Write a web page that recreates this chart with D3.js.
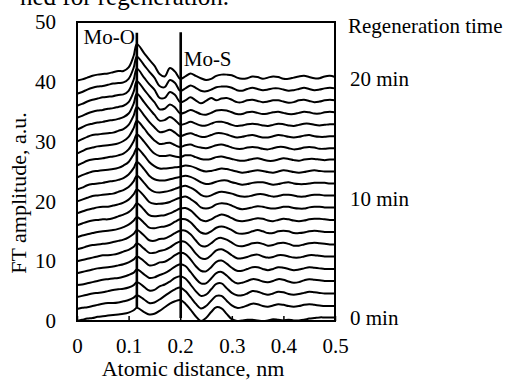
<!DOCTYPE html>
<html><head><meta charset="utf-8">
<script src="https://cdn.jsdelivr.net/npm/d3@7"></script>
<style>
html,body{margin:0;padding:0;background:#fff;}
svg{display:block;}
text{font-family:"Liberation Serif","Times New Roman",serif;fill:#000;}
</style></head>
<body><svg id="c" width="506" height="381"></svg>
<script>
// ---- data ----
const distance = [0,.01,.02,.03,.04,.05,.06,.07,.08,.09,.10,.11,.116,.13,.14,.15,.16,.17,.18,.19,.20,.21,.22,.23,.24,.25,.26,.27,.28,.29,.30,.31,.32,.33,.34,.35,.36,.37,.38,.39,.40,.41,.42,.43,.44,.45,.46,.47,.48,.49,.50];
const offsets = [0,2,4,6,8,10,12,14,16,18,20,22,24,26,28,30,32,34,36,38,40];
const xTicks = [0,0.1,0.2,0.3,0.4,0.5];
const yTicks = [0,10,20,30,40,50];
const timeLabels = [{t:"0 min",v:0.4},{t:"10 min",v:20.3},{t:"20 min",v:40.3}];
const peakLines = [{name:"Mo-O",x:0.116,y0:2.2,y1:48.2},{name:"Mo-S",x:0.201,y0:0.5,y1:48.3}];

const c00=[0,.2,.4,.5,.7,.8,.9,1.0,1.1,1.2,1.4,1.8, 2.2, 1.5,1.1,1.2,1.7,2.3,2.9,3.3,3.5, 2.9,1.9,.8,0,.5,1.5,2.3,2.1,1.2,.3, 0,.1,.2,.2,.1,0,.1,.3,.2,.1, .2,.1,.1,.2,.4,.5,.6,.6,.6,.6];
const c01=[0,.2,.3,.5,.7,.9,1.0,1.0,1.1,1.3,1.5,1.9, 2.3, 1.6,1.0,1.1,1.6,2.2,2.8,3.3,3.6, 3.0,2.0,.9,.1,.5,1.4,2.2,2.2,1.4,.6, .2,.3,.6,.9,.8,.5,.4,.6,.8,.7, .5,.4,.5,.7,.8,.7,.6,.5,.5,.5];
const c02=[0,.2,.4,.6,.7,.8,1.0,1.2,1.3,1.4,1.6,2.0, 2.5, 1.7,1.1,1.2,1.8,2.1,2.6,3.2,3.5, 3.1,2.1,1.0,.2,.4,1.3,2.2,2.3,1.5,.7, .3,.3,.6,1.0,.9,.6,.4,.6,.9,.8, .5,.4,.5,.7,.9,.8,.7,.6,.6,.6];
const c03=[0,.1,.3,.5,.7,.9,1.0,1.1,1.2,1.4,1.7,2.1, 2.6, 1.8,1.2,1.3,1.7,2.0,2.5,3.1,3.5, 3.2,2.2,1.1,.3,.3,1.1,2.0,2.2,1.6,.8, .3,.4,.7,1.0,.9,.6,.5,.7,1.0,.9, .6,.4,.5,.8,1.0,.9,.8,.7,.7,.7];
const c04=[0,.2,.4,.6,.8,.9,1.0,1.1,1.3,1.5,1.8,2.3, 2.8, 2.0,1.3,1.4,1.8,1.9,2.4,3.0,3.4, 3.2,2.3,1.2,.4,.3,1.0,1.9,2.1,1.6,.9, .4,.4,.7,1.0,1.0,.7,.5,.7,1.0,.9, .7,.5,.6,.8,1.0,.9,.8,.7,.7,.7];
const c05=[0,.2,.4,.6,.8,1.0,1.0,1.1,1.3,1.6,1.9,2.4, 3.0, 2.1,1.4,1.4,1.7,1.9,2.3,2.9,3.3, 3.2,2.4,1.3,.5,.4,1.0,1.8,2.0,1.6,1.0, .5,.5,.7,1.0,1.1,.8,.6,.7,1.0,1.0, .8,.6,.6,.8,1.0,1.0,.9,.8,.8,.8];
const c06=[0,.2,.5,.7,.8,.9,1.0,1.2,1.4,1.6,2.0,2.6, 3.2, 2.3,1.5,1.4,1.7,1.8,2.2,2.7,3.1, 3.1,2.5,1.5,.6,.5,1.0,1.7,1.9,1.6,1.1, .6,.5,.7,1.0,1.1,.9,.6,.7,1.0,1.1, .9,.6,.6,.8,1.0,1.1,1.0,.9,.8,.8];
const c07=[0,.3,.5,.7,.9,1.0,1.1,1.2,1.4,1.7,2.1,2.8, 3.4, 2.4,1.6,1.5,1.7,1.8,2.1,2.6,3.0, 3.0,2.5,1.6,.8,.6,1.0,1.6,1.8,1.6,1.2, .7,.6,.7,1.0,1.2,1.0,.7,.7,1.0,1.1, 1.0,.7,.7,.8,1.0,1.1,1.0,.9,.9,.9];
const c08=[0,.3,.6,.8,.9,1.0,1.0,1.2,1.5,1.8,2.2,3.0, 3.7, 2.6,1.7,1.5,1.6,1.7,2.0,2.4,2.8, 2.9,2.5,1.7,.9,.7,1.0,1.5,1.8,1.6,1.2, .8,.7,.8,1.0,1.2,1.1,.8,.7,.9,1.1, 1.0,.8,.7,.8,1.0,1.1,1.1,1.0,.9,.9];
const c09=[0,.3,.6,.8,1.0,1.1,1.1,1.3,1.5,1.8,2.3,3.2, 4.0, 2.9,1.9,1.6,1.6,1.7,1.9,2.3,2.6, 2.8,2.4,1.8,1.0,.8,1.0,1.5,1.7,1.6,1.3, .9,.7,.8,1.0,1.2,1.1,.9,.8,.9,1.1, 1.1,.9,.8,.8,1.0,1.1,1.1,1.0,1.0,1.0];
const c10=[0,.3,.6,.9,1.0,1.1,1.2,1.3,1.6,1.9,2.4,3.4, 4.3, 3.1,2.1,1.6,1.5,1.6,1.8,2.1,2.4, 2.6,2.3,1.8,1.1,.8,1.0,1.4,1.6,1.5,1.3, 1.0,.8,.8,1.0,1.2,1.2,1.0,.8,.9,1.1, 1.1,1.0,.8,.8,1.0,1.1,1.1,1.0,1.0,1.0];
const c11=[0,.3,.7,.9,1.0,1.1,1.3,1.4,1.6,1.9,2.5,3.6, 4.6, 3.4,2.3,1.7,1.5,1.5,1.7,1.9,2.1, 2.3,2.1,1.7,1.2,.9,1.0,1.3,1.5,1.5,1.2, 1.0,.8,.9,1.1,1.2,1.2,1.0,.8,.9,1.1, 1.2,1.0,.9,.9,1.0,1.1,1.1,1.1,1.0,1.0];
const c12=[0,.4,.7,1.0,1.1,1.2,1.3,1.4,1.6,2.0,2.6,3.9, 4.9, 3.7,2.6,1.9,1.5,1.5,1.6,1.7,1.8, 2.0,1.9,1.6,1.2,1.0,1.1,1.3,1.5,1.4,1.2, 1.0,.8,.9,1.1,1.2,1.1,.9,.8,1.0,1.2, 1.1,.9,.8,.9,1.1,1.2,1.1,1.0,1.0,1.0];
const c13=[0,.4,.8,1.0,1.1,1.2,1.4,1.5,1.7,2.0,2.7,4.1, 5.2, 4.0,2.9,2.0,1.6,1.6,1.7,1.5,1.4, 1.7,1.7,1.4,1.1,1.0,1.1,1.4,1.5,1.3,1.1, .9,.8,.9,1.1,1.2,1.0,.8,.8,1.0,1.2, 1.1,.9,.8,1.0,1.1,1.1,1.0,.9,1.0,1.0];
const c14=[0,.4,.8,1.0,1.2,1.3,1.4,1.5,1.7,2.1,2.8,4.3, 5.5, 4.2,3.1,2.2,1.6,1.7,1.8,1.4,1.1, 1.4,1.5,1.2,1.0,.9,1.1,1.4,1.5,1.3,1.0, .8,.8,1.0,1.1,1.0,.8,.7,.9,1.1,1.1, .9,.7,.8,1.0,1.1,1.0,.8,.8,.9,.9];
const c15=[0,.4,.8,1.1,1.2,1.3,1.4,1.5,1.8,2.1,2.8,4.4, 5.8, 4.4,3.3,2.4,1.6,1.7,2.0,1.5,.9, 1.2,1.4,1.1,.8,.8,1.1,1.4,1.4,1.2,.9, .7,.8,1.0,1.1,.9,.7,.7,.9,1.1,1.0, .8,.7,.8,1.0,1.1,.9,.8,.8,.9,.9];
const c16=[0,.4,.8,1.0,1.2,1.3,1.5,1.6,1.8,2.1,2.7,4.4, 6.0, 4.6,3.5,2.5,1.5,1.6,2.1,1.6,.8, 1.0,1.3,1.0,.7,.7,1.0,1.3,1.3,1.1,.8, .6,.7,.9,1.0,.9,.7,.6,.8,1.0,.9, .7,.6,.8,1.0,1.0,.8,.7,.8,.9,.9];
const c17=[0,.3,.7,1.0,1.2,1.3,1.5,1.6,1.8,2.0,2.6,4.4, 6.1, 4.7,3.6,2.6,1.4,1.5,2.2,1.7,.7, .9,1.3,1.0,.6,.5,.8,1.2,1.3,1.2,.9, .6,.6,.9,1.0,.8,.6,.7,.9,1.0,.8, .6,.6,.8,1.0,.9,.7,.7,.9,1.0,.9];
const c18=[0,.3,.7,1.0,1.2,1.4,1.5,1.6,1.8,1.9,2.5,4.4, 6.2, 4.7,3.6,2.7,1.3,1.3,2.3,1.8,.6, .9,1.4,.9,.4,.8,1.3,.9,1.2,1.3,1.0, .6,.6,.9,1.0,.8,.6,.7,.9,.9,.7, .5,.6,.9,1.0,.8,.6,.7,.9,1.0,.9];
const c19=[0,.3,.7,1.0,1.2,1.3,1.5,1.7,1.8,1.9,2.5,4.4, 6.2, 4.8,3.7,2.7,1.3,1.1,2.3,1.8,.5, .9,1.4,1.0,.5,.4,.7,1.1,1.2,1.2,1.0, .6,.5,.8,1.0,.8,.6,.7,.9,.9,.7, .5,.6,.8,1.0,.8,.6,.7,.9,1.0,.9];
const c20=[.2,.4,.7,1.0,1.2,1.3,1.4,1.6,1.8,1.8,2.4,4.4, 6.3, 4.8,3.7,2.7,1.3,.9,2.3,1.7,.5, .9,1.4,1.0,.6,.3,.5,1.0,1.2,1.2,1.1, .7,.5,.6,.9,.8,.5,.7,.9,.8,.5, .5,.7,.9,1.0,.8,.6,.6,.9,1.0,.8];
const curves=[c00,c01,c02,c03,c04,c05,c06,c07,c08,c09,c10,c11,c12,c13,c14,c15,c16,c17,c18,c19,c20];

// ---- drawing ----
const FS = 21;
const svg = d3.select("#c");
const L=77, R=335, T=22, B=321;
const x = d3.scaleLinear().domain([0,0.5]).range([L,R]);
const y = d3.scaleLinear().domain([0,50]).range([B,T]);

// caption fragment at top (cut by the image edge, as in the source)
svg.append("text").attr("x",20).attr("y",5).style("font-size","25px").text("ned for regeneration.");

const line = d3.line().x(d=>x(d[0])).y(d=>y(d[1])).curve(d3.curveCatmullRom.alpha(0.5));
const g = svg.append("g");
curves.forEach((cv,k)=>{
  const pts = distance.map((d,i)=>[d, offsets[k]+cv[i]]);
  g.append("path").attr("d",line(pts)).attr("fill","none").attr("stroke","#000").attr("stroke-width",2).attr("stroke-linejoin","round");
});

// peak marker lines
peakLines.forEach(p=>{
  svg.append("line").attr("x1",x(p.x)).attr("x2",x(p.x)).attr("y1",y(p.y0)).attr("y2",y(p.y1))
    .attr("stroke","#000").attr("stroke-width",2.6);
});
svg.append("text").attr("x",x(0.116)-2).attr("y",y(46.4)).attr("text-anchor","end").style("font-size",FS+"px").text("Mo-O");
svg.append("text").attr("x",x(0.201)+3).attr("y",y(42.7)).style("font-size",FS+"px").text("Mo-S");

// axes
const xa = svg.append("g").attr("transform",`translate(0,${B})`)
  .call(d3.axisBottom(x).tickValues(xTicks).tickSize(-5).tickPadding(17).tickFormat(d3.format("")));
xa.select(".domain").remove();
xa.selectAll("line").attr("stroke","#000").attr("stroke-width",1.5);
xa.selectAll("text").style("font-size",FS+"px").attr("font-family",null);

const ya = svg.append("g").attr("transform",`translate(${L},0)`)
  .call(d3.axisLeft(y).tickValues(yTicks).tickSize(0).tickPadding(21));
ya.select(".domain").remove();
ya.selectAll("text").style("font-size",FS+"px").attr("font-family",null);

// frame
svg.append("rect").attr("x",L).attr("y",T).attr("width",R-L).attr("height",B-T)
  .attr("fill","none").attr("stroke","#000").attr("stroke-width",2);

// axis titles
svg.append("text").attr("x",193).attr("y",376).attr("text-anchor","middle").style("font-size","22px").text("Atomic distance, nm");
svg.append("text").attr("transform","translate(26,193) rotate(-90)").attr("text-anchor","middle").style("font-size","22px").text("FT amplitude, a.u.");

// right labels
svg.append("text").attr("x",348).attr("y",33).style("font-size",FS+"px").text("Regeneration time");
timeLabels.forEach(t=>{
  svg.append("text").attr("x",350).attr("y",y(t.v)+6).style("font-size",FS+"px").text(t.t);
});
</script></body></html>
